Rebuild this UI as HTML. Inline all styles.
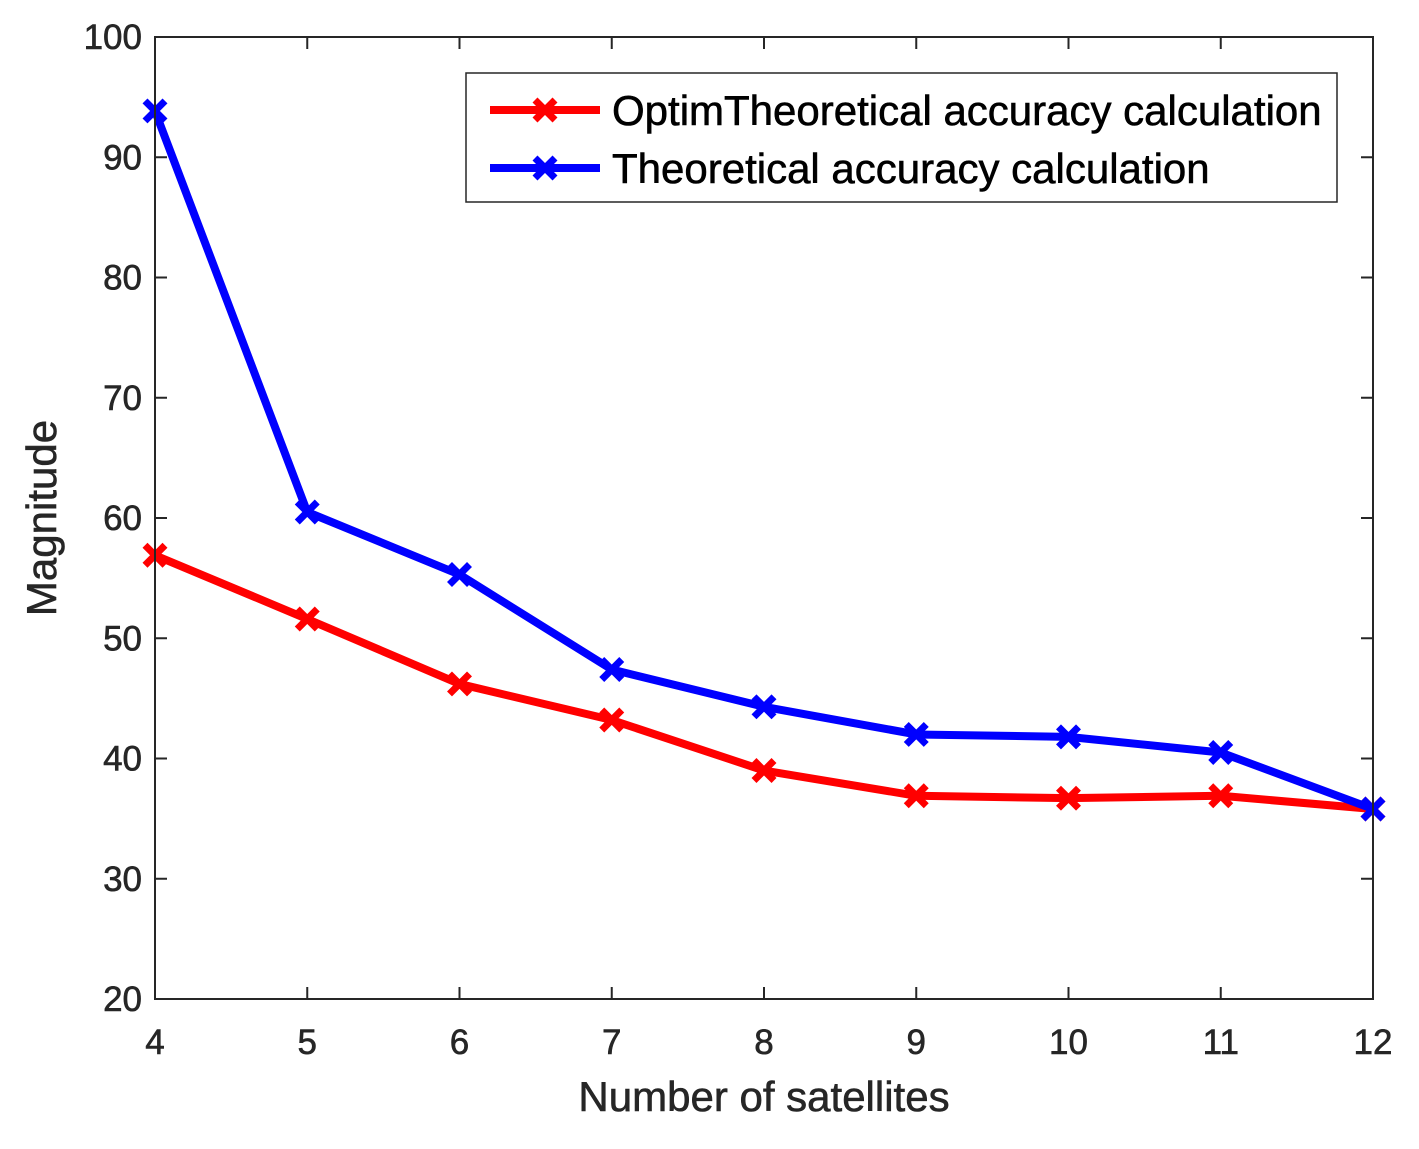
<!DOCTYPE html>
<html><head><meta charset="utf-8"><style>
body{margin:0;background:#fff;}
text{font-family:"Liberation Sans",Arial,sans-serif;fill:#262626;stroke:#262626;stroke-width:0.6;}
</style></head><body>
<svg id="chart" width="1419" height="1144" xmlns="http://www.w3.org/2000/svg">
<rect width="1419" height="1144" fill="#fff"/>
<g id="grid"></g>
<g id="series"></g>
<rect x="155" y="37" width="1218" height="962" fill="none" stroke="#262626" stroke-width="2"/>
<text x="764" y="1111" font-size="42" text-anchor="middle">Number of satellites</text>
<text transform="translate(56,518) rotate(-90)" font-size="42" text-anchor="middle">Magnitude</text>
<g>
<rect x="466" y="73" width="871" height="129" fill="#fff" stroke="#262626" stroke-width="1.5"/>
<g>
<line x1="490" y1="110" x2="600" y2="110" stroke="#ff0000" stroke-width="8"/>
<path d="M535 100 L555 120 M555 100 L535 120" stroke="#ff0000" stroke-width="7"/>
<text x="612" y="125" font-size="42" fill="#000" style="fill:#000;stroke:#000">OptimTheoretical accuracy calculation</text>
</g>
<g>
<line x1="490" y1="168" x2="600" y2="168" stroke="#0000ff" stroke-width="8"/>
<path d="M535 158 L555 178 M555 158 L535 178" stroke="#0000ff" stroke-width="7"/>
<text x="612" y="183" font-size="42" fill="#000" style="fill:#000;stroke:#000">Theoretical accuracy calculation</text>
</g>
</g>
</svg>
<script>
const categories=[4,5,6,7,8,9,10,11,12];
const optimValues=[56.9,51.6,46.2,43.2,39.0,36.9,36.7,36.9,35.8];
const theoreticalValues=[93.85,60.5,55.3,47.4,44.3,42.0,41.8,40.5,35.8];
const yTicks=[20,30,40,50,60,70,80,90,100];
const xTicks=[4,5,6,7,8,9,10,11,12];
const L=155,R=1373,T=37,B=999;
const xs=v=>L+(v-4)/(12-4)*(R-L);
const ys=v=>B-(v-20)/(100-20)*(B-T);
const NS="http://www.w3.org/2000/svg";
const grid=document.getElementById('grid'),ser=document.getElementById('series');
function mk(tag,attrs,parent){const e=document.createElementNS(NS,tag);for(const k in attrs)e.setAttribute(k,attrs[k]);parent.appendChild(e);return e;}
yTicks.forEach(v=>{const y=ys(v);
mk('path',{d:`M${L} ${y}h12M${R} ${y}h-12`,stroke:'#262626','stroke-width':2},grid);
const t=mk('text',{x:L-13,y:y+12,'font-size':35,'text-anchor':'end'},grid);t.textContent=v;

});
xTicks.forEach(v=>{const x=xs(v);
mk('path',{d:`M${x} ${B}v-12M${x} ${T}v12`,stroke:'#262626','stroke-width':2},grid);
const t=mk('text',{x:x,y:B+55,'font-size':35,'text-anchor':'middle'},grid);t.textContent=v;

});
function draw(vals,color,name){
const g=mk('g',{},ser);


const pts=vals.map((v,i)=>xs(categories[i])+','+ys(v)).join(' ');
mk('polyline',{points:pts,fill:'none',stroke:color,'stroke-width':8,'stroke-linejoin':'round'},g);
vals.forEach((v,i)=>{const x=xs(categories[i]),y=ys(v);
const m=mk('path',{d:`M${x-10} ${y-10}L${x+10} ${y+10}M${x+10} ${y-10}L${x-10} ${y+10}`,stroke:color,'stroke-width':7},g);

});}
draw(optimValues,'#ff0000','optim-series');
draw(theoreticalValues,'#0000ff','theoretical-series');
</script>
</body></html>
